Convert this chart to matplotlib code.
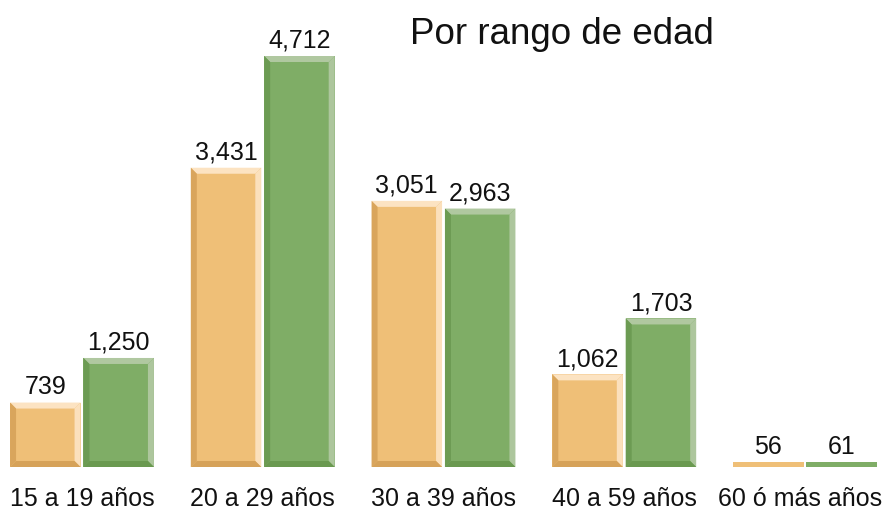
import matplotlib
matplotlib.use("Agg")
import matplotlib.pyplot as plt
from matplotlib.patches import Polygon

categories = ["15 a 19 años", "20 a 29 años", "30 a 39 años", "40 a 59 años", "60 ó más años"]
serie_a = [739, 3431, 3051, 1062, 56]
serie_b = [1250, 4712, 2963, 1703, 61]
title = "Por rango de edad"

plt.rcParams['font.family'] = ['Liberation Sans', 'DejaVu Sans']

W, H = 884, 510
fig = plt.figure(figsize=(W / 100, H / 100), dpi=100)
base_px = 468
ax = fig.add_axes([0, (H - base_px) / H, 1, base_px / H])
ax.axis('off')

px_per_unit = 180.75
ax.set_xlim(-82 / px_per_unit, 4 + (W - 805) / px_per_unit)
val_per_px = 4712 / 411.0
ax.set_ylim(0, base_px * val_per_px)

width = 0.39
off = 0.203
bx = 6 / px_per_unit
by = 6 * val_per_px

styles = {
    'a': dict(face='#EFBF77', top='#FCE3C2', right='#FBE0BC', left='#D9A55C', bottom='#D6A259'),
    'b': dict(face='#7FAD66', top='#B0C8A0', right='#ADC69D', left='#6C9B53', bottom='#6A9950'),
}

def bevel_bar(x, v, st):
    bars = ax.bar([x], [v], width=width, color=st['face'], linewidth=0)
    b = bars[0]
    x0, x1 = b.get_x(), b.get_x() + b.get_width()
    y1 = b.get_height()
    if y1 > 2 * by:
        polys = [
            ([(x0, y1), (x1, y1), (x1 - bx, y1 - by), (x0 + bx, y1 - by)], st['top']),
            ([(x1, y1), (x1, 0), (x1 - bx, by), (x1 - bx, y1 - by)], st['right']),
            ([(x0, 0), (x1, 0), (x1 - bx, by), (x0 + bx, by)], st['bottom']),
            ([(x0, 0), (x0, y1), (x0 + bx, y1 - by), (x0 + bx, by)], st['left']),
        ]
        for pts, c in polys:
            ax.add_patch(Polygon(pts, closed=True, facecolor=c, edgecolor='none'))
    ax.annotate(f"{v:,}", (x, y1), xytext=(0, 3), textcoords='offset points',
                ha='center', va='bottom', fontsize=18, color='#111111')

fig.canvas.draw()
renderer = fig.canvas.get_renderer()
for i, cat in enumerate(categories):
    bevel_bar(i - off, serie_a[i], styles['a'])
    bevel_bar(i + off, serie_b[i], styles['b'])
    t = ax.annotate(cat, (i, 0), xytext=(0, -22), textcoords='offset points',
                    ha='center', va='center', fontsize=18, color='#111111',
                    annotation_clip=False)
    bb = t.get_window_extent(renderer)
    over = bb.x1 - (W - 2)
    if over > 0:
        t.set_position((-over * 72 / 100, -22))

fig.text(562 / W, 1 - 34 / H, title, ha='center', va='center', fontsize=26.5, color='#111111')

fig.savefig("out.png", dpi=100)
